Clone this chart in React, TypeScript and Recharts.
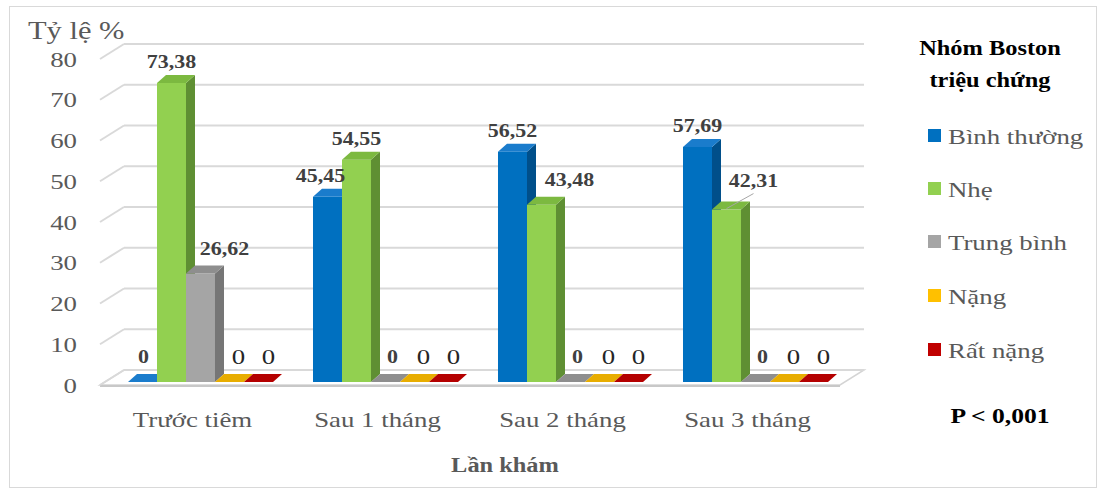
import React from "react";
import { Bar, BarChart, CartesianGrid, LabelList, XAxis, YAxis } from "recharts";

const categories = ["Trước tiêm", "Sau 1 tháng", "Sau 2 tháng", "Sau 3 tháng"];
const binhThuong = [0, 45.45, 56.52, 57.69];
const nhe = [73.38, 54.55, 43.48, 42.31];
const trungBinh = [26.62, 0, 0, 0];
const nang = [0, 0, 0, 0];
const ratNang = [0, 0, 0, 0];
const yTicks = [0, 10, 20, 30, 40, 50, 60, 70, 80];

const data = categories.map((name, i) => ({
  name,
  binhThuong: binhThuong[i],
  nhe: nhe[i],
  trungBinh: trungBinh[i],
  nang: nang[i],
  ratNang: ratNang[i],
}));

const WIDTH = 1102;
const HEIGHT = 491;
const MARGIN = { top: 56, right: 262, bottom: 49, left: 10 };
const PLOT_BOTTOM = 382;

// depth of the bars and of the walls
const DX = 9;
const DY = 8;
const WALL_DX = 24;
const WALL_FRONT = 3;
const WALL_BACK = -12;
const SHIFT_X = 7;

// the text is a little wider than the font's natural width
const SX = 1.22;
const FONT = "'Liberation Serif', 'Times New Roman', serif";

type Colors = { front: string; side: string; top: string };

const series: {
  key: string;
  name: string;
  colors: Colors;
  zeroDx: number;
  zeroBold: boolean;
}[] = [
  { key: "binhThuong", name: "Bình thường", colors: { front: "#0070c0", side: "#004f8a", top: "#1a7ccc" }, zeroDx: 1, zeroBold: true },
  { key: "nhe", name: "Nhẹ", colors: { front: "#92d050", side: "#5f8f33", top: "#7cb940" }, zeroDx: 7, zeroBold: true },
  { key: "trungBinh", name: "Trung bình", colors: { front: "#a5a5a5", side: "#767676", top: "#8e8e8e" }, zeroDx: 7, zeroBold: true },
  { key: "nang", name: "Nặng", colors: { front: "#ffc000", side: "#c99600", top: "#e8ad00" }, zeroDx: 9, zeroBold: false },
  { key: "ratNang", name: "Rất nặng", colors: { front: "#c00000", side: "#850000", top: "#b40000" }, zeroDx: 10, zeroBold: false },
];

const labelNudges: Record<string, { dx: number; dy: number; leader?: boolean }> = {
  "binhThuong-1": { dx: -7, dy: 0 },
  "nhe-2": { dx: 28, dy: -4 },
  "nhe-3": { dx: 27, dy: -8, leader: true },
  "trungBinh-0": { dx: 24, dy: -4 },
};

function Bar3D(props: any) {
  const { x, y, width, height, colors } = props;
  const left = x + SHIFT_X;
  const right = left + width;
  const bottom = y + height;
  const tall = height > 0.5;
  return (
    <g>
      {tall && <rect x={left} y={y} width={width} height={height} fill={colors.front} />}
      {tall && (
        <polygon
          points={`${right},${y} ${right + DX},${y - DY} ${right + DX},${bottom - DY} ${right},${bottom}`}
          fill={colors.side}
        />
      )}
      <polygon
        points={`${left},${y} ${left + DX},${y - DY} ${right + DX},${y - DY} ${right},${y}`}
        fill={colors.top}
      />
    </g>
  );
}

function renderLabel(props: any, s: (typeof series)[number]) {
  const vb = props.viewBox ?? props;
  const x = vb.x ?? props.x;
  const y = vb.y ?? props.y;
  const width = vb.width ?? props.width;
  const { value, index } = props;
  const center = x + SHIFT_X + width / 2;

  if (Number(value) === 0) {
    const by = y - (s.zeroBold ? 19 : 18);
    return (
      <text
        transform={`translate(${center + s.zeroDx},${by}) scale(${SX},1)`}
        textAnchor="middle"
        fontFamily={FONT}
        fontSize={s.zeroBold ? 18 : 22}
        fontWeight={s.zeroBold ? 700 : 400}
        fill={s.zeroBold ? "#404040" : "#262626"}
      >
        0
      </text>
    );
  }

  const nudge = labelNudges[`${s.key}-${index}`] ?? { dx: 0, dy: 0 };
  const cx = center + nudge.dx;
  const by = y - 15 + nudge.dy;
  const text = Number(value).toFixed(2).replace(".", ",");
  return (
    <g>
      {nudge.leader && <line x1={center} y1={y - 1} x2={cx} y2={by + 7} stroke="#a6a6a6" strokeWidth={1} />}
      <text
        transform={`translate(${cx},${by}) scale(${SX},1)`}
        textAnchor="middle"
        fontFamily={FONT}
        fontSize={18}
        fontWeight={700}
        fill="#404040"
      >
        {text}
      </text>
    </g>
  );
}

function renderGridLine(props: any) {
  const { x1, x2, y1, index } = props;
  const front = y1 + WALL_FRONT;
  const back = y1 + WALL_BACK;
  const isFloor = Math.abs(y1 - PLOT_BOTTOM) < 1;
  return (
    <g key={`grid-${index}`}>
      {isFloor && (
        <>
          <polygon
            points={`${x1},${front} ${x2},${front} ${x2 + WALL_DX},${back} ${x1 + WALL_DX},${back}`}
            fill="#ffffff"
            stroke="#d4d4d4"
            strokeWidth={1.5}
          />
          <line x1={x1} y1={front + 1} x2={x2} y2={front + 1} stroke="#c8c8c8" strokeWidth={2} />
        </>
      )}
      <line x1={x1} y1={front} x2={x1 + WALL_DX} y2={back} stroke="#d9d9d9" strokeWidth={2} />
      <line x1={x1 + WALL_DX} y1={back} x2={x2 + WALL_DX} y2={back} stroke="#d9d9d9" strokeWidth={2} />
    </g>
  );
}

function YTick(props: any) {
  const { y, payload } = props;
  return (
    <text
      transform={`translate(77,${y + WALL_FRONT}) scale(${SX},1)`}
      textAnchor="end"
      dominantBaseline="central"
      fontFamily={FONT}
      fontSize={22}
      fill="#595959"
    >
      {payload.value}
    </text>
  );
}

function XTick(props: any) {
  const { x, payload } = props;
  return (
    <text
      transform={`translate(${x},${PLOT_BOTTOM + 45}) scale(${SX},1)`}
      textAnchor="middle"
      fontFamily={FONT}
      fontSize={22}
      fill="#595959"
    >
      {payload.value}
    </text>
  );
}

function Overlay() {
  const itemY = [136, 189, 242, 296, 350];
  return (
    <svg width={WIDTH} height={HEIGHT} style={{ position: "absolute", left: 0, top: 0, pointerEvents: "none" }}>
      <text transform={`translate(28,39) scale(${SX},1)`} fontFamily={FONT} fontSize={25} fill="#595959">
        Tỷ lệ %
      </text>
      <text transform={`translate(505,472) scale(${SX},1)`} textAnchor="middle" fontFamily={FONT} fontSize={20} fontWeight={700} fill="#595959">
        Lần khám
      </text>
      <text transform={`translate(990,55) scale(${SX},1)`} textAnchor="middle" fontFamily={FONT} fontSize={20} fontWeight={700} fill="#000000">
        Nhóm Boston
      </text>
      <text transform={`translate(990,87) scale(${SX},1)`} textAnchor="middle" fontFamily={FONT} fontSize={20} fontWeight={700} fill="#000000">
        triệu chứng
      </text>
      {series.map((s, i) => (
        <g key={s.key}>
          <rect x={928} y={itemY[i] - 7} width={13} height={13} fill={s.colors.front} />
          <text
            transform={`translate(948,${itemY[i]}) scale(${SX},1)`}
            dominantBaseline="central"
            fontFamily={FONT}
            fontSize={22}
            fill="#595959"
          >
            {s.name}
          </text>
        </g>
      ))}
      <text transform={`translate(1000,423) scale(${SX},1)`} textAnchor="middle" fontFamily={FONT} fontSize={21} fontWeight={700} fill="#000000">
        P &lt; 0,001
      </text>
    </svg>
  );
}

export default function App() {
  return (
    <div style={{ position: "absolute", left: 0, top: 0, width: WIDTH, height: HEIGHT, background: "#ffffff" }}>
      <div
        style={{
          position: "absolute",
          left: 9,
          top: 6,
          width: 1088,
          height: 482,
          border: "1px solid #d9d9d9",
          boxSizing: "border-box",
        }}
      />
      <BarChart width={WIDTH} height={HEIGHT} data={data} margin={MARGIN} barCategoryGap="11.35%" barGap={0}>
        <CartesianGrid vertical={false} horizontal={renderGridLine} />
        <XAxis dataKey="name" axisLine={false} tickLine={false} height={60} tick={<XTick />} interval={0} />
        <YAxis
          domain={[0, 80]}
          ticks={yTicks}
          axisLine={false}
          tickLine={false}
          width={90}
          tick={<YTick />}
          interval={0}
        />
        {series.map((s) => (
          <Bar
            key={s.key}
            dataKey={s.key}
            name={s.name}
            fill={s.colors.front}
            isAnimationActive={false}
            shape={(p: any) => <Bar3D {...p} colors={s.colors} />}
          >
            <LabelList dataKey={s.key} content={(p: any) => renderLabel(p, s)} />
          </Bar>
        ))}
      </BarChart>
      <Overlay />
    </div>
  );
}
